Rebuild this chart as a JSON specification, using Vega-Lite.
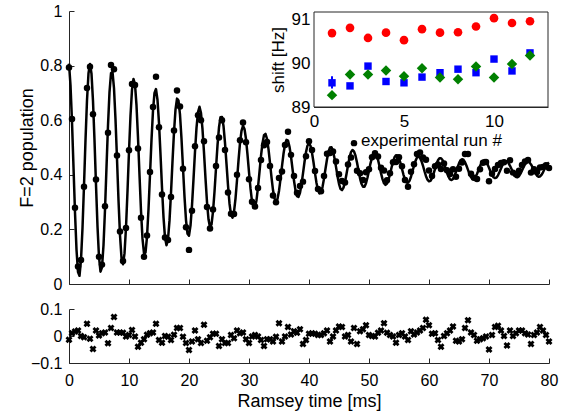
{
  "$schema": "https://vega.github.io/schema/vega-lite/v6.json",
  "background": "white",
  "padding": {"left": 18, "top": 3, "right": 5, "bottom": 5},
  "datasets": {
    "fit": [
      {"t":0,"p":0.807},{"t":0.25,"p":0.728},{"t":0.5,"p":0.594},{"t":0.75,"p":0.428},{"t":1,"p":0.262},{"t":1.25,"p":0.126},{"t":1.5,"p":0.044},{"t":1.75,"p":0.030},{"t":2,"p":0.088},{"t":2.25,"p":0.205},
      {"t":2.5,"p":0.361},{"t":2.75,"p":0.527},{"t":3,"p":0.673},{"t":3.25,"p":0.772},{"t":3.5,"p":0.806},{"t":3.75,"p":0.770},{"t":4,"p":0.670},{"t":4.25,"p":0.526},{"t":4.5,"p":0.363},{"t":4.75,"p":0.211},
      {"t":5,"p":0.098},{"t":5.25,"p":0.045},{"t":5.5,"p":0.061},{"t":5.75,"p":0.142},{"t":6,"p":0.272},{"t":6.25,"p":0.428},{"t":6.5,"p":0.581},{"t":6.75,"p":0.703},{"t":7,"p":0.772},{"t":7.25,"p":0.777},
      {"t":7.5,"p":0.717},{"t":7.75,"p":0.603},{"t":8,"p":0.458},{"t":8.25,"p":0.307},{"t":8.5,"p":0.179},{"t":8.75,"p":0.096},{"t":9,"p":0.072},{"t":9.25,"p":0.112},{"t":9.5,"p":0.207},{"t":9.75,"p":0.340},
      {"t":10,"p":0.486},{"t":10.25,"p":0.617},{"t":10.5,"p":0.711},{"t":10.75,"p":0.751},{"t":11,"p":0.731},{"t":11.25,"p":0.654},{"t":11.5,"p":0.536},{"t":11.75,"p":0.399},{"t":12,"p":0.268},{"t":12.25,"p":0.166},
      {"t":12.5,"p":0.112},{"t":12.75,"p":0.115},{"t":13,"p":0.173},{"t":13.25,"p":0.274},{"t":13.5,"p":0.400},{"t":13.75,"p":0.528},{"t":14,"p":0.635},{"t":14.25,"p":0.700},{"t":14.5,"p":0.714},{"t":14.75,"p":0.674},
      {"t":15,"p":0.589},{"t":15.25,"p":0.475},{"t":15.5,"p":0.353},{"t":15.75,"p":0.245},{"t":16,"p":0.170},{"t":16.25,"p":0.142},{"t":16.5,"p":0.164},{"t":16.75,"p":0.232},{"t":17,"p":0.334},{"t":17.25,"p":0.449},
      {"t":17.5,"p":0.557},{"t":17.75,"p":0.639},{"t":18,"p":0.679},{"t":18.25,"p":0.672},{"t":18.5,"p":0.620},{"t":18.75,"p":0.532},{"t":19,"p":0.425},{"t":19.25,"p":0.320},{"t":19.5,"p":0.234},{"t":19.75,"p":0.184},
      {"t":20,"p":0.177},{"t":20.25,"p":0.214},{"t":20.5,"p":0.288},{"t":20.75,"p":0.384},{"t":21,"p":0.485},{"t":21.25,"p":0.572},{"t":21.5,"p":0.630},{"t":21.75,"p":0.649},{"t":22,"p":0.626},{"t":22.25,"p":0.567},
      {"t":22.5,"p":0.481},{"t":22.75,"p":0.387},{"t":23,"p":0.300},{"t":23.25,"p":0.237},{"t":23.5,"p":0.208},{"t":23.75,"p":0.218},{"t":24,"p":0.265},{"t":24.25,"p":0.338},{"t":24.5,"p":0.424},{"t":24.75,"p":0.508},
      {"t":25,"p":0.574},{"t":25.25,"p":0.611},{"t":25.5,"p":0.612},{"t":25.75,"p":0.579},{"t":26,"p":0.517},{"t":26.25,"p":0.440},{"t":26.5,"p":0.361},{"t":26.75,"p":0.295},{"t":27,"p":0.253},{"t":27.25,"p":0.243},
      {"t":27.5,"p":0.264},{"t":27.75,"p":0.313},{"t":28,"p":0.380},{"t":28.25,"p":0.452},{"t":28.5,"p":0.517},{"t":28.75,"p":0.561},{"t":29,"p":0.579},{"t":29.25,"p":0.568},{"t":29.5,"p":0.531},{"t":29.75,"p":0.474},
      {"t":30,"p":0.410},{"t":30.25,"p":0.350},{"t":30.5,"p":0.303},{"t":30.75,"p":0.279},{"t":31,"p":0.280},{"t":31.25,"p":0.307},{"t":31.5,"p":0.354},{"t":31.75,"p":0.411},{"t":32,"p":0.469},{"t":32.25,"p":0.516},
      {"t":32.5,"p":0.545},{"t":32.75,"p":0.550},{"t":33,"p":0.532},{"t":33.25,"p":0.494},{"t":33.5,"p":0.444},{"t":33.75,"p":0.391},{"t":34,"p":0.344},{"t":34.25,"p":0.313},{"t":34.5,"p":0.302},{"t":34.75,"p":0.312},
      {"t":35,"p":0.341},{"t":35.25,"p":0.384},{"t":35.5,"p":0.432},{"t":35.75,"p":0.477},{"t":36,"p":0.511},{"t":36.25,"p":0.528},{"t":36.5,"p":0.525},{"t":36.75,"p":0.503},{"t":37,"p":0.467},{"t":37.25,"p":0.422},
      {"t":37.5,"p":0.378},{"t":37.75,"p":0.343},{"t":38,"p":0.322},{"t":38.25,"p":0.319},{"t":38.5,"p":0.334},{"t":38.75,"p":0.365},{"t":39,"p":0.405},{"t":39.25,"p":0.447},{"t":39.5,"p":0.483},{"t":39.75,"p":0.507},
      {"t":40,"p":0.515},{"t":40.25,"p":0.506},{"t":40.5,"p":0.481},{"t":40.75,"p":0.446},{"t":41,"p":0.406},{"t":41.25,"p":0.370},{"t":41.5,"p":0.344},{"t":41.75,"p":0.332},{"t":42,"p":0.336},{"t":42.25,"p":0.355},
      {"t":42.5,"p":0.386},{"t":42.75,"p":0.422},{"t":43,"p":0.457},{"t":43.25,"p":0.485},{"t":43.5,"p":0.500},{"t":43.75,"p":0.501},{"t":44,"p":0.487},{"t":44.25,"p":0.461},{"t":44.5,"p":0.429},{"t":44.75,"p":0.395},
      {"t":45,"p":0.367},{"t":45.25,"p":0.348},{"t":45.5,"p":0.344},{"t":45.75,"p":0.353},{"t":46,"p":0.374},{"t":46.25,"p":0.403},{"t":46.5,"p":0.434},{"t":46.75,"p":0.463},{"t":47,"p":0.483},{"t":47.25,"p":0.491},
      {"t":47.5,"p":0.486},{"t":47.75,"p":0.470},{"t":48,"p":0.445},{"t":48.25,"p":0.416},{"t":48.5,"p":0.388},{"t":48.75,"p":0.367},{"t":49,"p":0.356},{"t":49.25,"p":0.356},{"t":49.5,"p":0.369},{"t":49.75,"p":0.390},
      {"t":50,"p":0.416},{"t":50.25,"p":0.442},{"t":50.5,"p":0.464},{"t":50.75,"p":0.478},{"t":51,"p":0.481},{"t":51.25,"p":0.472},{"t":51.5,"p":0.455},{"t":51.75,"p":0.431},{"t":52,"p":0.406},{"t":52.25,"p":0.384},
      {"t":52.5,"p":0.369},{"t":52.75,"p":0.363},{"t":53,"p":0.368},{"t":53.25,"p":0.382},{"t":53.5,"p":0.402},{"t":53.75,"p":0.426},{"t":54,"p":0.448},{"t":54.25,"p":0.464},{"t":54.5,"p":0.472},{"t":54.75,"p":0.471},
      {"t":55,"p":0.460},{"t":55.25,"p":0.443},{"t":55.5,"p":0.421},{"t":55.75,"p":0.400},{"t":56,"p":0.383},{"t":56.25,"p":0.372},{"t":56.5,"p":0.371},{"t":56.75,"p":0.378},{"t":57,"p":0.393},{"t":57.25,"p":0.413},
      {"t":57.5,"p":0.433},{"t":57.75,"p":0.451},{"t":58,"p":0.463},{"t":58.25,"p":0.467},{"t":58.5,"p":0.462},{"t":58.75,"p":0.450},{"t":59,"p":0.433},{"t":59.25,"p":0.413},{"t":59.5,"p":0.395},{"t":59.75,"p":0.382},
      {"t":60,"p":0.376},{"t":60.25,"p":0.378},{"t":60.5,"p":0.388},{"t":60.75,"p":0.403},{"t":61,"p":0.421},{"t":61.25,"p":0.439},{"t":61.5,"p":0.453},{"t":61.75,"p":0.461},{"t":62,"p":0.461},{"t":62.25,"p":0.454},
      {"t":62.5,"p":0.441},{"t":62.75,"p":0.424},{"t":63,"p":0.407},{"t":63.25,"p":0.393},{"t":63.5,"p":0.383},{"t":63.75,"p":0.381},{"t":64,"p":0.385},{"t":64.25,"p":0.396},{"t":64.5,"p":0.411},{"t":64.75,"p":0.427},
      {"t":65,"p":0.442},{"t":65.25,"p":0.453},{"t":65.5,"p":0.457},{"t":65.75,"p":0.455},{"t":66,"p":0.446},{"t":66.25,"p":0.433},{"t":66.5,"p":0.418},{"t":66.75,"p":0.403},{"t":67,"p":0.391},{"t":67.25,"p":0.385},
      {"t":67.5,"p":0.385},{"t":67.75,"p":0.392},{"t":68,"p":0.403},{"t":68.25,"p":0.418},{"t":68.5,"p":0.432},{"t":68.75,"p":0.444},{"t":69,"p":0.452},{"t":69.25,"p":0.454},{"t":69.5,"p":0.449},{"t":69.75,"p":0.439},
      {"t":70,"p":0.426},{"t":70.25,"p":0.412},{"t":70.5,"p":0.400},{"t":70.75,"p":0.391},{"t":71,"p":0.388},{"t":71.25,"p":0.390},{"t":71.5,"p":0.398},{"t":71.75,"p":0.410},{"t":72,"p":0.423},{"t":72.25,"p":0.436},
      {"t":72.5,"p":0.446},{"t":72.75,"p":0.450},{"t":73,"p":0.450},{"t":73.25,"p":0.443},{"t":73.5,"p":0.433},{"t":73.75,"p":0.421},{"t":74,"p":0.408},{"t":74.25,"p":0.398},{"t":74.5,"p":0.392},{"t":74.75,"p":0.391},
      {"t":75,"p":0.395},{"t":75.25,"p":0.404},{"t":75.5,"p":0.416},{"t":75.75,"p":0.428},{"t":76,"p":0.439},{"t":76.25,"p":0.446},{"t":76.5,"p":0.448},{"t":76.75,"p":0.445},{"t":77,"p":0.438},{"t":77.25,"p":0.428},
      {"t":77.5,"p":0.416},{"t":77.75,"p":0.405},{"t":78,"p":0.397},{"t":78.25,"p":0.393},{"t":78.5,"p":0.394},{"t":78.75,"p":0.400},{"t":79,"p":0.409},{"t":79.25,"p":0.421},{"t":79.5,"p":0.431},{"t":79.75,"p":0.440},
      {"t":80,"p":0.445}
    ],
    "obs": [
      {"t":0,"p":0.793,"r":-0.014},{"t":0.5,"p":0.604,"r":0.01},{"t":1,"p":0.279,"r":0.017},{"t":1.5,"p":0.064,"r":0.02},{"t":2,"p":0.088,"r":0},
      {"t":2.5,"p":0.356,"r":-0.005},{"t":3,"p":0.718,"r":0.045},{"t":3.5,"p":0.796,"r":-0.01},{"t":4,"p":0.622,"r":-0.048},{"t":4.5,"p":0.383,"r":0.02},
      {"t":5,"p":0.100,"r":0.002},{"t":5.5,"p":0.071,"r":0.01},{"t":6,"p":0.285,"r":0.013},{"t":6.5,"p":0.554,"r":-0.027},{"t":7,"p":0.802,"r":0.03},
      {"t":7.5,"p":0.787,"r":0.07},{"t":8,"p":0.471,"r":0.013},{"t":8.5,"p":0.192,"r":0.013},{"t":9,"p":0.084,"r":0.012},{"t":9.5,"p":0.205,"r":-0.002},
      {"t":10,"p":0.490,"r":0.004},{"t":10.5,"p":0.733,"r":0.022},{"t":11,"p":0.729,"r":-0.002},{"t":11.5,"p":0.496,"r":-0.04},{"t":12,"p":0.243,"r":-0.025},
      {"t":12.5,"p":0.100,"r":-0.012},{"t":13,"p":0.178,"r":0.005},{"t":13.5,"p":0.410,"r":0.01},{"t":14,"p":0.648,"r":0.013},{"t":14.5,"p":0.759,"r":0.045},
      {"t":15,"p":0.574,"r":-0.015},{"t":15.5,"p":0.328,"r":-0.025},{"t":16,"p":0.170,"r":0},{"t":16.5,"p":0.161,"r":-0.003},{"t":17,"p":0.319,"r":-0.015},
      {"t":17.5,"p":0.562,"r":0.005},{"t":18,"p":0.709,"r":0.03},{"t":18.5,"p":0.650,"r":0.03},{"t":19,"p":0.422,"r":-0.003},{"t":19.5,"p":0.208,"r":-0.026},
      {"t":20,"p":0.125,"r":-0.052},{"t":20.5,"p":0.268,"r":-0.02},{"t":21,"p":0.505,"r":0.02},{"t":21.5,"p":0.618,"r":-0.012},{"t":22,"p":0.600,"r":-0.026},
      {"t":22.5,"p":0.523,"r":0.042},{"t":23,"p":0.282,"r":-0.018},{"t":23.5,"p":0.203,"r":-0.005},{"t":24,"p":0.273,"r":0.008},{"t":24.5,"p":0.432,"r":0.008},
      {"t":25,"p":0.537,"r":-0.037},{"t":25.5,"p":0.600,"r":-0.012},{"t":26,"p":0.491,"r":-0.026},{"t":26.5,"p":0.335,"r":-0.026},{"t":27,"p":0.257,"r":0.004},
      {"t":27.5,"p":0.256,"r":-0.008},{"t":28,"p":0.400,"r":0.02},{"t":28.5,"p":0.527,"r":0.01},{"t":29,"p":0.592,"r":0.013},{"t":29.5,"p":0.519,"r":-0.012},
      {"t":30,"p":0.384,"r":-0.026},{"t":30.5,"p":0.301,"r":-0.002},{"t":31,"p":0.284,"r":0.004},{"t":31.5,"p":0.352,"r":-0.002},{"t":32,"p":0.454,"r":-0.015},
      {"t":32.5,"p":0.508,"r":-0.037},{"t":33,"p":0.520,"r":-0.012},{"t":33.5,"p":0.432,"r":-0.012},{"t":34,"p":0.324,"r":-0.02},{"t":34.5,"p":0.299,"r":-0.003},
      {"t":35,"p":0.388,"r":0.047},{"t":35.5,"p":0.412,"r":-0.02},{"t":36,"p":0.509,"r":-0.002},{"t":36.5,"p":0.558,"r":0.033},{"t":37,"p":0.473,"r":0.006},
      {"t":37.5,"p":0.396,"r":0.018},{"t":38,"p":0.334,"r":0.012},{"t":38.5,"p":0.359,"r":0.025},{"t":39,"p":0.375,"r":-0.03},{"t":39.5,"p":0.468,"r":-0.015},
      {"t":40,"p":0.523,"r":0.008},{"t":40.5,"p":0.491,"r":0.01},{"t":41,"p":0.414,"r":0.008},{"t":41.5,"p":0.348,"r":0.004},{"t":42,"p":0.340,"r":0.004},
      {"t":42.5,"p":0.396,"r":0.01},{"t":43,"p":0.477,"r":0.02},{"t":43.5,"p":0.480,"r":-0.02},{"t":44,"p":0.485,"r":-0.002},{"t":44.5,"p":0.449,"r":0.02},
      {"t":45,"p":0.402,"r":0.035},{"t":45.5,"p":0.377,"r":0.033},{"t":46,"p":0.372,"r":-0.002},{"t":46.5,"p":0.438,"r":0.004},{"t":47,"p":0.463,"r":-0.02},
      {"t":47.5,"p":0.516,"r":0.03},{"t":48,"p":0.415,"r":-0.03},{"t":48.5,"p":0.406,"r":0.018},{"t":49,"p":0.381,"r":0.025},{"t":49.5,"p":0.409,"r":0.04},
      {"t":50,"p":0.420,"r":0.004},{"t":50.5,"p":0.464,"r":0},{"t":51,"p":0.479,"r":-0.002},{"t":51.5,"p":0.467,"r":0.012},{"t":52,"p":0.426,"r":0.02},
      {"t":52.5,"p":0.416,"r":0.047},{"t":53,"p":0.380,"r":0.012},{"t":53.5,"p":0.406,"r":0.004},{"t":54,"p":0.446,"r":-0.002},{"t":54.5,"p":0.447,"r":-0.025},
      {"t":55,"p":0.464,"r":0.004},{"t":55.5,"p":0.431,"r":0.01},{"t":56,"p":0.381,"r":-0.002},{"t":56.5,"p":0.356,"r":-0.015},{"t":57,"p":0.411,"r":0.018},
      {"t":57.5,"p":0.439,"r":0.006},{"t":58,"p":0.476,"r":0.013},{"t":58.5,"p":0.482,"r":0.02},{"t":59,"p":0.463,"r":0.03},{"t":59.5,"p":0.455,"r":0.06},
      {"t":60,"p":0.416,"r":0.04},{"t":60.5,"p":0.396,"r":0.008},{"t":61,"p":0.431,"r":0.01},{"t":61.5,"p":0.438,"r":-0.015},{"t":62,"p":0.421,"r":-0.04},
      {"t":62.5,"p":0.441,"r":0},{"t":63,"p":0.417,"r":0.01},{"t":63.5,"p":0.403,"r":0.02},{"t":64,"p":0.420,"r":0.035},{"t":64.5,"p":0.393,"r":-0.018},
      {"t":65,"p":0.422,"r":-0.02},{"t":65.5,"p":0.445,"r":-0.012},{"t":66,"p":0.476,"r":0.03},{"t":66.5,"p":0.476,"r":0.058},{"t":67,"p":0.404,"r":0.013},
      {"t":67.5,"p":0.389,"r":0.004},{"t":68,"p":0.385,"r":-0.018},{"t":68.5,"p":0.420,"r":-0.012},{"t":69,"p":0.444,"r":-0.008},{"t":69.5,"p":0.447,"r":-0.002},
      {"t":70,"p":0.376,"r":-0.05},{"t":70.5,"p":0.404,"r":0.004},{"t":71,"p":0.421,"r":0.033},{"t":71.5,"p":0.436,"r":0.038},{"t":72,"p":0.443,"r":0.02},
      {"t":72.5,"p":0.446,"r":0},{"t":73,"p":0.415,"r":-0.035},{"t":73.5,"p":0.453,"r":0.02},{"t":74,"p":0.408,"r":0},{"t":74.5,"p":0.402,"r":0.01},
      {"t":75,"p":0.415,"r":0.02},{"t":75.5,"p":0.436,"r":0.02},{"t":76,"p":0.449,"r":0.01},{"t":76.5,"p":0.454,"r":0.006},{"t":77,"p":0.408,"r":-0.03},
      {"t":77.5,"p":0.420,"r":0.004},{"t":78,"p":0.410,"r":0.013},{"t":78.5,"p":0.427,"r":0.033},{"t":79,"p":0.429,"r":0.02},{"t":79.5,"p":0.435,"r":0.004},
      {"t":80,"p":0.425,"r":-0.02}
    ],
    "shift": [
      {"run":1,"series":"a","shift":90.68},{"run":2,"series":"a","shift":90.80},{"run":3,"series":"a","shift":90.57},{"run":4,"series":"a","shift":90.69},
      {"run":5,"series":"a","shift":90.52},{"run":6,"series":"a","shift":90.77},{"run":7,"series":"a","shift":90.69},{"run":8,"series":"a","shift":90.70},
      {"run":9,"series":"a","shift":90.83},{"run":10,"series":"a","shift":91.02},{"run":11,"series":"a","shift":90.91},{"run":12,"series":"a","shift":90.95},
      {"run":1,"series":"b","shift":89.55},{"run":2,"series":"b","shift":89.48},{"run":3,"series":"b","shift":89.93},{"run":4,"series":"b","shift":89.58},
      {"run":5,"series":"b","shift":89.55},{"run":6,"series":"b","shift":89.68},{"run":7,"series":"b","shift":89.78},{"run":8,"series":"b","shift":89.86},
      {"run":9,"series":"b","shift":89.78},{"run":10,"series":"b","shift":90.09},{"run":11,"series":"b","shift":89.82},{"run":12,"series":"b","shift":90.23},
      {"run":1,"series":"c","shift":89.27},{"run":2,"series":"c","shift":89.74},{"run":3,"series":"c","shift":89.74},{"run":4,"series":"c","shift":89.83},
      {"run":5,"series":"c","shift":89.70},{"run":6,"series":"c","shift":89.88},{"run":7,"series":"c","shift":89.67},{"run":8,"series":"c","shift":89.63},
      {"run":9,"series":"c","shift":89.92},{"run":10,"series":"c","shift":89.67},{"run":11,"series":"c","shift":89.98},{"run":12,"series":"c","shift":90.17}
    ],
    "err": [
      {"run":1,"lo":89.42,"hi":89.70}
    ]
  },
  "vconcat": [
    {
      "width": 480,
      "height": 273,
      "layer": [
        {
          "layer": [
            {
              "data": {"name": "fit"},
              "mark": {"type": "line", "color": "black", "strokeWidth": 2.5, "strokeJoin": "round"},
              "encoding": {
                "x": {"field": "t", "type": "quantitative", "scale": {"domain": [0, 80], "nice": false},
                  "axis": {"orient": "bottom", "values": [0,10,20,30,40,50,60,70,80], "labels": false, "title": null, "tickSize": -5}},
                "y": {"field": "p", "type": "quantitative", "scale": {"domain": [0, 1], "nice": false},
                  "axis": {"orient": "left", "values": [0,0.2,0.4,0.6,0.8,1], "format": ".1~f", "title": "F=2 population", "tickSize": -5, "labelPadding": 12, "titlePadding": 3}}
              }
            },
            {
              "data": {"name": "obs"},
              "mark": {"type": "point", "filled": true, "color": "black", "size": 42, "opacity": 1},
              "encoding": {
                "x": {"field": "t", "type": "quantitative", "axis": {"title": null}},
                "y": {"field": "p", "type": "quantitative", "axis": {"title": "F=2 population"}}
              }
            }
          ]
        },
        {
          "layer": [
            {
              "data": {"name": "err"},
              "mark": {"type": "rect", "fill": "white", "stroke": "#262626", "strokeWidth": 1},
              "encoding": {
                "x": {"datum": 0, "type": "quantitative", "scale": {"domain": [0, 13], "range": [245, 479], "nice": false},
                  "axis": {"orient": "bottom", "offset": -177, "values": [0,5,10], "format": "d", "title": "experimental run #", "tickSize": -4, "labelPadding": 10, "titlePadding": 3, "labelFontSize": 17, "titleFontSize": 17}},
                "x2": {"datum": 13},
                "y": {"datum": 89, "type": "quantitative", "scale": {"domain": [89, 91.16], "range": [96, 1], "nice": false},
                  "axis": {"orient": "left", "offset": -245, "values": [89,90,91], "format": "d", "title": "shift [Hz]", "tickSize": -4, "labelPadding": 8, "titlePadding": 4, "labelFontSize": 17, "titleFontSize": 17}},
                "y2": {"datum": 91.16}
              }
            },
            {
              "data": {"name": "err"},
              "mark": {"type": "rule", "color": "#0000ff", "strokeWidth": 2},
              "encoding": {
                "x": {"field": "run", "type": "quantitative", "axis": {"title": "experimental run #"}},
                "y": {"field": "lo", "type": "quantitative", "axis": {"title": "shift [Hz]"}},
                "y2": {"field": "hi"}
              }
            },
            {
              "data": {"name": "shift"},
              "transform": [{"filter": "datum.series == 'a'"}],
              "mark": {"type": "point", "shape": "circle", "filled": true, "opacity": 1, "color": "#ff0000", "size": 75},
              "encoding": {
                "x": {"field": "run", "type": "quantitative", "axis": {"title": "experimental run #"}},
                "y": {"field": "shift", "type": "quantitative", "axis": {"title": "shift [Hz]"}}
              }
            },
            {
              "data": {"name": "shift"},
              "transform": [{"filter": "datum.series == 'b'"}],
              "mark": {"type": "point", "shape": "square", "filled": true, "opacity": 1, "color": "#0000ff", "size": 55},
              "encoding": {
                "x": {"field": "run", "type": "quantitative", "axis": {"title": "experimental run #"}},
                "y": {"field": "shift", "type": "quantitative", "axis": {"title": "shift [Hz]"}}
              }
            },
            {
              "data": {"name": "shift"},
              "transform": [{"filter": "datum.series == 'c'"}],
              "mark": {"type": "point", "shape": "diamond", "filled": true, "opacity": 1, "color": "#008000", "size": 110},
              "encoding": {
                "x": {"field": "run", "type": "quantitative", "axis": {"title": "experimental run #"}},
                "y": {"field": "shift", "type": "quantitative", "axis": {"title": "shift [Hz]"}}
              }
            }
          ]
        }
      ],
      "resolve": {"scale": {"x": "independent", "y": "independent"}}
    },
    {
      "width": 480,
      "height": 54,
      "data": {"name": "obs"},
      "mark": {"type": "point", "shape": "cross", "angle": 45, "filled": true, "color": "black", "size": 50, "opacity": 1},
      "encoding": {
        "x": {"field": "t", "type": "quantitative", "scale": {"domain": [0, 80], "nice": false},
          "axis": {"orient": "bottom", "values": [0,10,20,30,40,50,60,70,80], "format": "d", "title": "Ramsey time [ms]", "tickSize": -5, "labelPadding": 14, "titlePadding": 4}},
        "y": {"field": "r", "type": "quantitative", "scale": {"domain": [-0.1, 0.1], "nice": false},
          "axis": {"orient": "left", "values": [-0.1, 0, 0.1], "format": ".1~f", "title": null, "tickSize": -5, "labelPadding": 12}}
      }
    }
  ],
  "spacing": 9,
  "config": {
    "font": "Liberation Sans",
    "view": {"stroke": null},
    "axis": {
      "grid": false,
      "domainColor": "#262626",
      "tickColor": "#262626",
      "labelColor": "black",
      "titleColor": "black",
      "labelFont": "Liberation Sans",
      "titleFont": "Liberation Sans",
      "labelFontSize": 16,
      "titleFontSize": 18,
      "titleFontWeight": "normal",
      "labelFlush": false,
      "labelOverlap": false
    }
  }
}
